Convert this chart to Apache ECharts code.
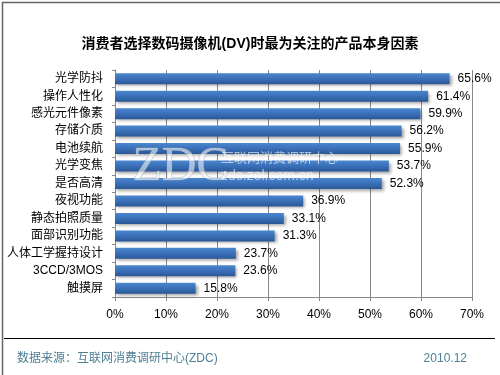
<!DOCTYPE html>
<html>
<head>
<meta charset="utf-8">
<script src="https://cdn.jsdelivr.net/npm/echarts@6/dist/echarts.min.js"></script>
<style>
html,body{margin:0;padding:0;background:#fff;}
#c{width:500px;height:375px;}
</style>
</head>
<body>
<div id="c"></div>
<script>
var categories = ['光学防抖','操作人性化','感光元件像素','存储介质','电池续航','光学变焦','是否高清','夜视功能','静态拍照质量','面部识别功能','人体工学握持设计','3CCD/3MOS','触摸屏'];
var values = [65.6, 61.4, 59.9, 56.2, 55.9, 53.7, 52.3, 36.9, 33.1, 31.3, 23.7, 23.6, 15.8];
var title = '消费者选择数码摄像机(DV)时最为关注的产品本身因素';
var source = '数据来源：互联网消费调研中心(ZDC)';
var dateText = '2010.12';

var font = '"Liberation Sans", "Noto Sans CJK SC", sans-serif';
var chart = echarts.init(document.getElementById('c'), null, {renderer:'canvas'});
chart.setOption({
  backgroundColor: '#ffffff',
  animation: false,
  title: {
    text: title, left: 'center', top: 32,
    textStyle: {fontSize: 14, fontWeight: 'bold', color: '#000', fontFamily: font}
  },
  grid: {left: 115, right: 28, top: 70, bottom: 78},
  xAxis: {
    type: 'value', min: 0, max: 70, interval: 10,
    axisLine: {show: true, lineStyle: {color: '#888', width: 1}},
    axisTick: {show: true, length: 4, lineStyle: {color: '#888'}},
    splitLine: {show: true, lineStyle: {color: '#888', width: 1}},
    axisLabel: {formatter: '{value}%', color: '#000', fontSize: 12, margin: 12, fontFamily: font}
  },
  yAxis: {
    type: 'category', data: categories, inverse: true,
    axisLine: {show: true, lineStyle: {color: '#888', width: 1}},
    axisTick: {show: true, length: 3, lineStyle: {color: '#888'}},
    axisLabel: {color: '#000', fontSize: 12, margin: 12, fontFamily: font}
  },
  series: [{
    type: 'bar', data: values, barWidth: 11,
    itemStyle: {
      color: new echarts.graphic.LinearGradient(0, 0, 0, 1, [
        {offset: 0, color: '#4a86cf'},
        {offset: 0.5, color: '#3a70b8'},
        {offset: 1, color: '#2a5796'}
      ]),
      shadowColor: 'rgba(0,0,0,0.35)', shadowBlur: 3, shadowOffsetX: 2, shadowOffsetY: 2
    },
    label: {show: true, position: 'right', distance: 8, formatter: '{c}%', color: '#000', fontSize: 12, fontFamily: font}
  }],
  graphic: [
    {type: 'rect', left: 0, top: 0, shape: {width: 499, height: 374}, style: {fill: 'none', stroke: '#666', lineWidth: 1.5}, z: 100, silent: true},
    {type: 'line', shape: {x1: 4, y1: 338.5, x2: 495, y2: 338.5}, style: {stroke: '#000', lineWidth: 1}},
    {type: 'text', left: 17, top: 353, style: {text: source, fill: '#4f7f95', fontSize: 12, fontFamily: font}},
    {type: 'text', right: 33, top: 353, style: {text: dateText, fill: '#4f7f95', fontSize: 12, fontFamily: font}},
    {type: 'text', left: 132, top: 143, z: 50, silent: true, style: {text: 'ZDC', fill: 'rgba(255,255,255,0.55)', stroke: 'rgba(150,160,175,0.55)', lineWidth: 1, fontSize: 48, fontFamily: '"Liberation Serif", serif', shadowColor: 'rgba(0,0,0,0.2)', shadowBlur: 2}},
    {type: 'text', left: 221, top: 152, z: 50, silent: true, style: {text: '互联网消费调研中心', fill: 'rgba(255,255,255,0.6)', fontSize: 13, fontFamily: font, shadowColor: 'rgba(0,0,0,0.25)', shadowBlur: 2}},
    {type: 'text', left: 221, top: 169, z: 50, silent: true, style: {text: 'zdc.zol.com.cn', fill: 'rgba(255,255,255,0.6)', fontSize: 14, fontFamily: font, shadowColor: 'rgba(0,0,0,0.25)', shadowBlur: 2}}
  ]
});
</script>
</body>
</html>
